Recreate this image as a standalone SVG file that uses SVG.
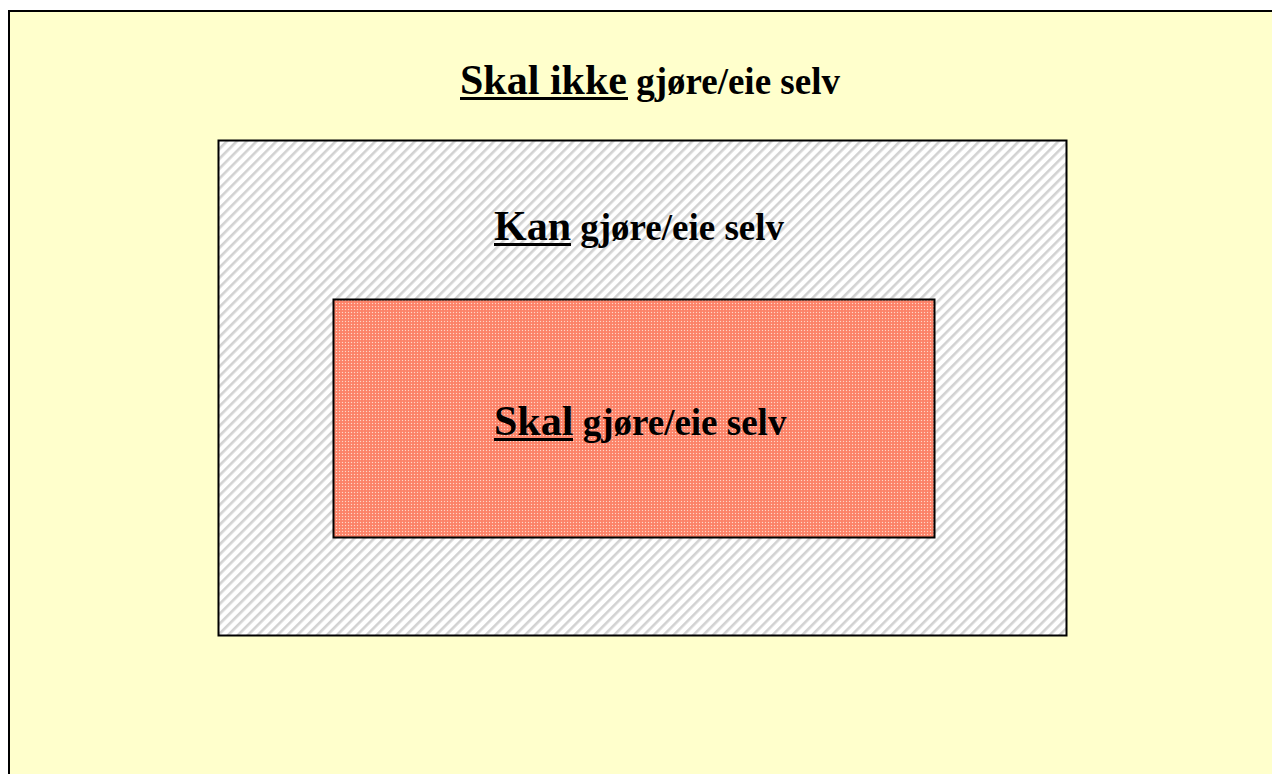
<svg xmlns="http://www.w3.org/2000/svg" width="1272" height="774" viewBox="0 0 1272 774">
<defs>
<pattern id="hatch" patternUnits="userSpaceOnUse" width="7" height="7" patternTransform="rotate(-45)">
<rect width="7" height="7" fill="#ffffff"/>
<rect width="7" height="2.6" fill="#d2d2d2"/>
</pattern>
<pattern id="dots" patternUnits="userSpaceOnUse" width="3" height="3">
<rect width="3" height="3" fill="#fb8a70"/>
<rect width="1" height="1" fill="#ffd6c8"/>
<rect x="1.5" y="1.5" width="1" height="1" fill="#ff6c4e"/>
</pattern>
<style>
.t{font-family:"Liberation Serif","Times New Roman",serif;font-weight:bold;fill:#000}
.big{font-size:42px}
.small{font-size:37px}
.ul{fill:#000}
</style>
</defs>
<rect width="1272" height="774" fill="#ffffff"/>
<g id="outer">
<rect x="9" y="11" width="1275" height="780" fill="#ffffcc" stroke="#000" stroke-width="2"/>
<text class="t" x="460" y="94"><tspan class="big">Skal ikke</tspan><tspan class="small"> gjøre/eie selv</tspan></text>
<rect class="ul" x="460" y="97" width="168" height="3"/>
</g>
<g id="middle">
<rect x="218.5" y="140.5" width="848" height="495" fill="url(#hatch)" stroke="#000" stroke-width="2"/>
<text class="t" x="494" y="240"><tspan class="big">Kan</tspan><tspan class="small"> gjøre/eie selv</tspan></text>
<rect class="ul" x="494" y="243" width="77" height="3"/>
</g>
<g id="inner">
<rect x="333.5" y="299.5" width="601" height="238" fill="url(#dots)" stroke="#000" stroke-width="2"/>
<text class="t" x="494" y="435"><tspan class="big">Skal</tspan><tspan class="small"> gjøre/eie selv</tspan></text>
<rect class="ul" x="494" y="438" width="79" height="3"/>
</g>
<g id="connectors"/>
</svg>
